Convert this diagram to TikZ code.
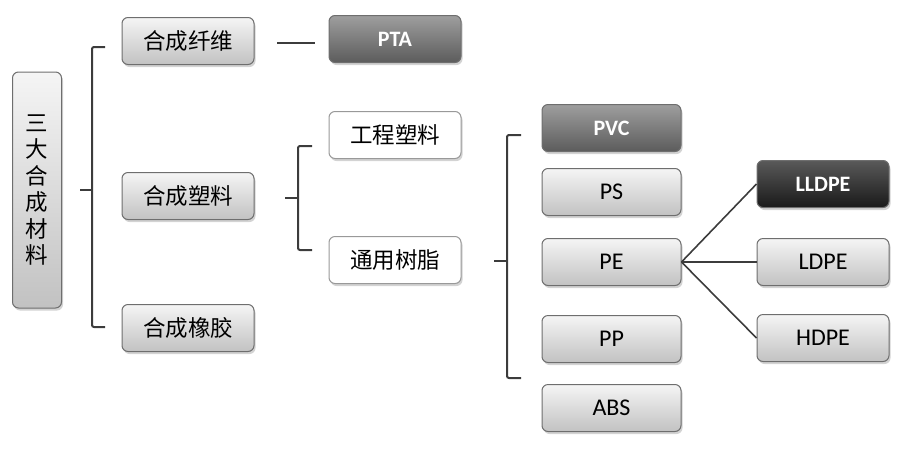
\documentclass[tikz,border=0pt]{standalone}
\usepackage{fontspec}
\setmainfont{Carlito}
\newfontfamily\cjk{Noto Sans CJK SC}
\usetikzlibrary{shadows}
\definecolor{edgegray}{HTML}{6E6E6E}
\definecolor{linegray}{HTML}{3C3C3C}
\tikzset{
  base/.style={rectangle, rounded corners=6pt, minimum width=132pt, minimum height=47pt,
    draw=edgegray, line width=1pt, inner sep=0pt,
    drop shadow={shadow xshift=1.5pt, shadow yshift=-2.5pt, opacity=0.35, fill=gray}},
  lightbox/.style={base, top color=white!96!black, bottom color=white!76!black, text=black},
  whitebox/.style={base, fill=white, draw=white!60!black},
  midbox/.style={base, top color=white!62!black, bottom color=white!36!black, text=white, font=\fontsize{22}{24}\selectfont\bfseries},
  darkbox/.style={base, top color=white!35!black, bottom color=black!90, text=white, font=\fontsize{22}{24}\selectfont\bfseries},
  cn/.style={font=\cjk\fontsize{22.5}{25}\selectfont},
  lat/.style={font=\fontsize{24}{26}\selectfont},
  conn/.style={draw=linegray, line width=2pt},
  brk/.style={draw=linegray, line width=2pt, rounded corners=2pt}
}
\begin{document}
\begin{tikzpicture}[x=1pt,y=-1pt]
\useasboundingbox (0,0) rectangle (900,448);
% root
\node[lightbox, minimum width=49pt, minimum height=236pt, align=center,
      font=\cjk\fontsize{22.5}{26.5}\selectfont] (root) at (37,190) {三\\大\\合\\成\\材\\料};
% level 1
\node[lightbox, cn] (fiber) at (188,41) {合成纤维};
\node[lightbox, cn] (plastic) at (188,196) {合成塑料};
\node[lightbox, cn] (rubber) at (188,328) {合成橡胶};
% level 2
\node[midbox] (pta) at (395,39) {PTA};
\node[whitebox, cn] (eng) at (395,135) {工程塑料};
\node[whitebox, cn] (gen) at (395,260) {通用树脂};
% level 3
\node[midbox, minimum width=139pt] (pvc) at (611.5,128) {PVC};
\node[lightbox, lat, minimum width=139pt] (ps) at (611.5,192) {PS};
\node[lightbox, lat, minimum width=139pt] (pe) at (611.5,262) {PE};
\node[lightbox, lat, minimum width=139pt] (pp) at (611.5,339) {PP};
\node[lightbox, lat, minimum width=139pt] (abs) at (611.5,408) {ABS};
% level 4
\node[darkbox] (lldpe) at (823,184) {LLDPE};
\node[lightbox, lat] (ldpe) at (823,262) {LDPE};
\node[lightbox, lat] (hdpe) at (823,338) {HDPE};
% bracket 1
\coordinate (b1m) at (80,190);
\draw[brk] (105,47) -- (92,47) -- (92,327) -- (105,327);
\draw[conn] (b1m) -- (92,190);
% fiber to PTA
\coordinate (f1) at (277,43);
\coordinate (f2) at (315,43);
\draw[conn] (f1) -- (f2);
% bracket 2
\coordinate (b2m) at (285,198);
\draw[brk] (312,146) -- (298,146) -- (298,250) -- (312,250);
\draw[conn] (b2m) -- (298,198);
% bracket 3
\coordinate (b3m) at (494,261);
\draw[brk] (521,135) -- (507,135) -- (507,378) -- (521,378);
\draw[conn] (b3m) -- (507,261);
% PE children
\draw[conn, line width=1.6pt] (pe.east) -- (lldpe.west);
\draw[conn, line width=1.6pt] (pe.east) -- (ldpe.west);
\draw[conn, line width=1.6pt] (pe.east) -- (hdpe.west);
\end{tikzpicture}
\end{document}
